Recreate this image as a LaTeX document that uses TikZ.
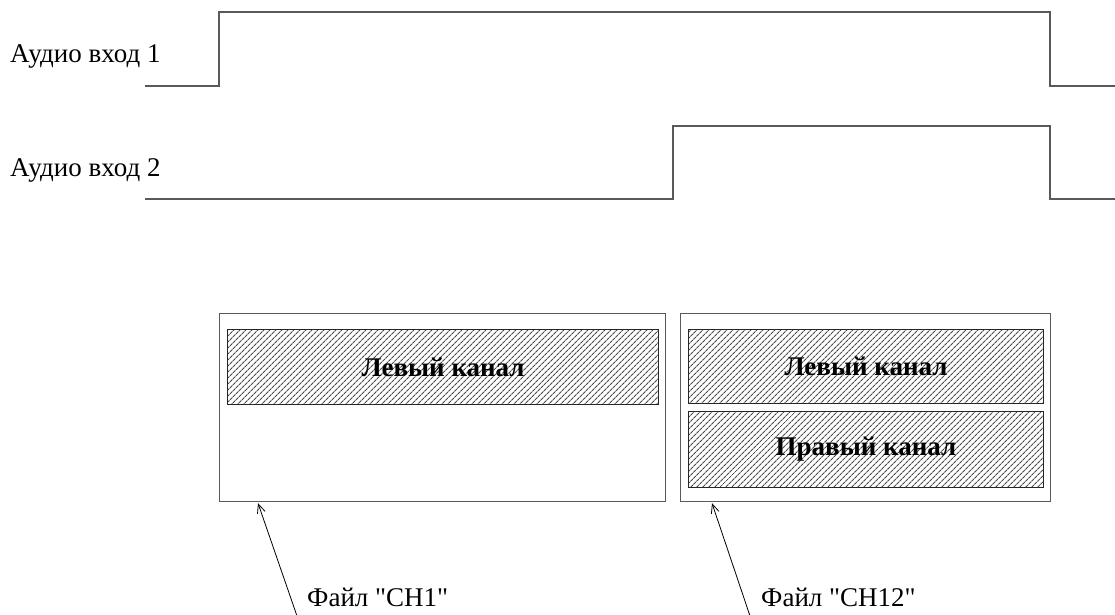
\documentclass[tikz,border=0pt]{standalone}
\usepackage{fontspec}
\setmainfont{Liberation Serif}[Ligatures=TeXOff]
\usepackage{tikz}
\usetikzlibrary{positioning, arrows.meta, calc, patterns.meta}

\begin{document}
\begin{tikzpicture}[x=1pt, y=-1pt]
	\tikzset{
		signal/.style={draw=black!65, line width=1.2pt},
		filebox/.style={draw=black!65, line width=1.2pt, anchor=north west, inner sep=0pt},
		chanbox/.style={draw=black!85, line width=1pt, anchor=north west, inner sep=0pt,
			pattern={Lines[angle=45, distance=4pt, line width=1.2pt]}, pattern color=black!70,
			font=\fontsize{27pt}{31pt}\selectfont\bfseries},
		label/.style={font=\fontsize{27pt}{31pt}\selectfont, anchor=base west, inner sep=0pt},
		pointer/.style={-{Straight Barb[length=9pt, width=8pt]}, line width=0.8pt},
	}
	
	% Frame
	\fill[white] (0,0) rectangle (1115,614);
	\useasboundingbox (0,0) rectangle (1115,614);
	
	% Signal labels
	\node[label] (in1) at (10,62) {Аудио вход 1};
	\node[label] (in2) at (10,176) {Аудио вход 2};
	
	% Signals
	\draw[signal] (145,86) -- (219,86) -- (219,12) -- (1050,12) -- (1050,86) -- (1115,86);
	\draw[signal] (145,199) -- (673,199) -- (673,126) -- (1050,126) -- (1050,199) -- (1115,199);
	
	% File CH1
	\node[filebox, minimum width=446pt, minimum height=188pt] (file1) at (219,313) {};
	\node[chanbox, minimum width=431pt, minimum height=75pt] (left1) at (227,329) {Левый канал};
	
	% File CH12
	\node[filebox, minimum width=370pt, minimum height=188pt] (file2) at (680,313) {};
	\node[chanbox, minimum width=355pt, minimum height=74pt] (left2) at (688,329) {Левый канал};
	\node[chanbox, minimum width=355pt, minimum height=76pt] (right2) at (688,411) {Правый канал};
	
	% File captions
	\node[label] (cap1) at (307,606) {Файл "CH1"};
	\node[label] (cap2) at (761,606) {Файл "CH12"};
	
	% Pointers
	\coordinate (tail1) at (297,616);
	\coordinate (tail2) at (750,616);
	\draw[pointer] (tail1) -- ($(file1.south west)+(39,1)$);
	\draw[pointer] (tail2) -- ($(file2.south west)+(32,1)$);
\end{tikzpicture}
\end{document}
